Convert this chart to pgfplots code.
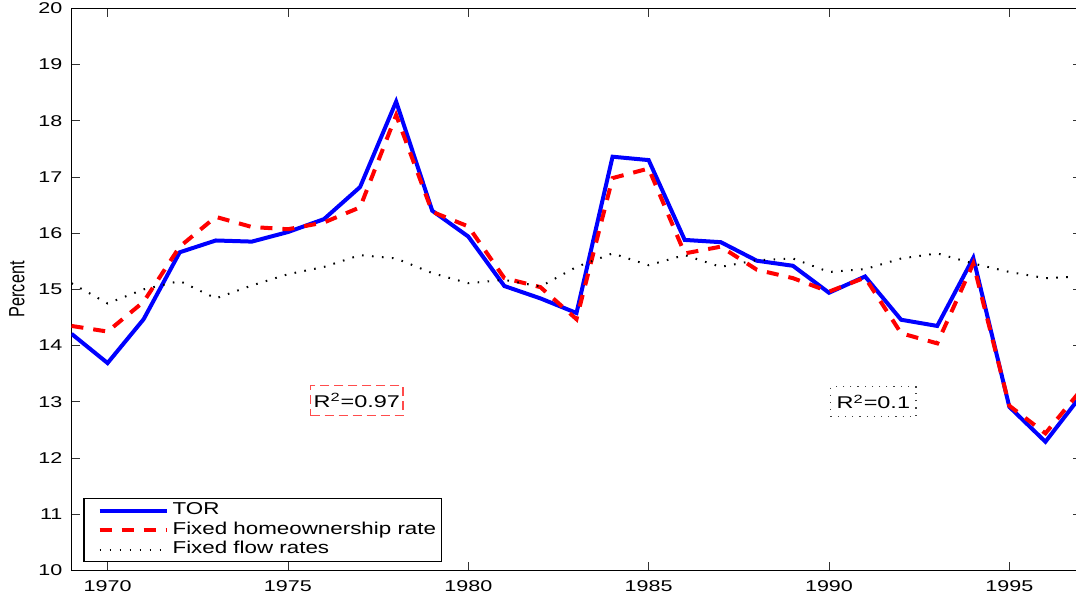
\documentclass[border=0pt]{standalone}
\usepackage{fontspec}
\setmainfont{Liberation Sans}[FakeStretch=1.38]
\newfontfamily\legfont{Liberation Sans}[FakeStretch=1.3]
\newfontfamily\ylabfont{Liberation Sans}[FakeStretch=0.74]
\usepackage{pgfplots}
\pgfplotsset{compat=1.18}

\pgfplotstableread{
year tor
1969 14.21
1970 13.69
1971 14.47
1972 15.66
1973 15.87
1974 15.85
1975 16.02
1976 16.25
1977 16.82
1978 18.34
1979 16.40
1980 15.94
1981 15.06
1982 14.84
1983 14.58
1984 17.36
1985 17.30
1986 15.88
1987 15.84
1988 15.51
1989 15.42
1990 14.94
1991 15.23
1992 14.46
1993 14.35
1994 15.56
1995 12.91
1996 12.29
1997 13.12
}\tortable

\pgfplotstableread{
year fho
1969 14.35
1970 14.25
1971 14.78
1972 15.76
1973 16.29
1974 16.11
1975 16.07
1976 16.19
1977 16.46
1978 18.10
1979 16.38
1980 16.12
1981 15.20
1982 15.04
1983 14.47
1984 16.98
1985 17.15
1986 15.64
1987 15.76
1988 15.35
1989 15.20
1990 14.96
1991 15.21
1992 14.22
1993 14.04
1994 15.46
1995 12.93
1996 12.44
1997 13.22
}\fhotable

\pgfplotstableread{
year ffr
1969 15.11
1970 14.75
1971 15.00
1972 15.15
1973 14.84
1974 15.07
1975 15.27
1976 15.40
1977 15.61
1978 15.55
1979 15.29
1980 15.11
1981 15.17
1982 15.05
1983 15.40
1984 15.64
1985 15.43
1986 15.61
1987 15.40
1988 15.52
1989 15.55
1990 15.31
1991 15.36
1992 15.55
1993 15.64
1994 15.46
1995 15.31
1996 15.20
1997 15.23
}\ffrtable

\begin{document}
\begin{tikzpicture}
\begin{axis}[
  name=ax,
  scale only axis,
  width=505pt, height=281.1pt,
  xmin=1969, xmax=1997, ymin=10, ymax=20,
  xtick={1970,1975,...,1995},
  ytick={10,11,...,20},
  tick align=inside,
  major tick length=4.3pt,
  tick style={black!80, line width=0.4pt},
  axis line style={line width=0.6pt},
  ticklabel style={font=\fontsize{7.8}{9}\selectfont},
  xticklabel style={yshift=-1.5pt},
  yticklabel style={xshift=-1pt},
  /pgf/number format/1000 sep={},
  /pgf/number format/assume math mode=true,
  ylabel={\ylabfont\fontsize{11}{12}\selectfont Percent},
  ylabel style={at={(axis description cs:-0.054,0.5)}, anchor=center},
  legend cell align=left,
  legend image code/.code={\path (0pt,0pt); \draw[#1] (4.35pt,0pt) -- (37.85pt,0pt);},
  legend style={at={(rel axis cs:0.0117,0.0146)}, anchor=south west,
    draw=black, line width=0.6pt, fill=white,
    font=\legfont\fontsize{8.6}{9}\selectfont,
    inner xsep=2.5pt, inner ysep=1.78pt, row sep=1.15pt, column sep=2pt,
    nodes={inner xsep=0pt, inner ysep=0pt, text height=6.4pt, text depth=2.2pt}},
]
\addplot[blue, line width=2pt, line join=miter] table[x=year, y=tor] {\tortable};
\addlegendentry{TOR}
\addplot[red, line width=2pt, dash pattern=on 6pt off 5pt] table[x=year, y=fho] {\fhotable};
\addlegendentry{Fixed homeownership rate}
\addplot[black, line width=1pt, dash pattern=on 0.8pt off 4.2pt] table[x=year, y=ffr] {\ffrtable};
\addlegendentry{Fixed flow rates}

\node[draw=red!70, line width=0.6pt, dash pattern=on 4.5pt off 2.5pt,
      minimum height=15pt, inner xsep=1.5pt, font=\fontsize{8.5}{9}\selectfont]
  at (axis cs:1976.91,13.02) {R\textsuperscript{2}=0.97};
\node[draw=black!75, line width=0.6pt, dash pattern=on 0.6pt off 3pt,
      minimum height=15pt, inner xsep=3pt, font=\fontsize{8.5}{9}\selectfont]
  at (axis cs:1991.23,13.0) {R\textsuperscript{2}=0.1};
\end{axis}
\pgfresetboundingbox
\path[use as bounding box] ([xshift=-35.75pt,yshift=-14.25pt]ax.south west) rectangle ([xshift=-2.75pt,yshift=4.15pt]ax.north east);
\end{tikzpicture}
\end{document}
